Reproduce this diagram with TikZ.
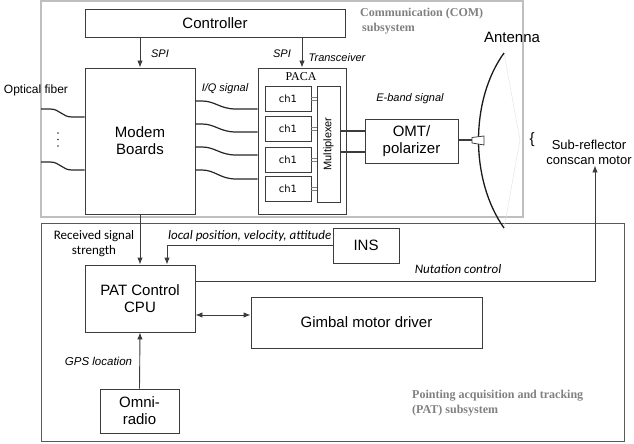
\documentclass[tikz,border=0pt]{standalone}
\usepackage{fontspec}
\setmainfont{Liberation Sans}
\newfontfamily\calfont{Carlito}
\newfontfamily\serfont{Liberation Serif}
\newfontfamily\djfont{DejaVu Sans}
\usetikzlibrary{arrows.meta}
\definecolor{boxline}{RGB}{60,60,60}
\definecolor{labgray}{RGB}{128,128,128}
\tikzset{
  box/.style={draw=boxline, line width=0.9pt, rectangle, inner sep=0pt, align=center, font=\fontsize{15}{17}\selectfont},
  chbox/.style={draw=boxline, line width=0.9pt, rectangle, inner sep=0pt, font=\djfont\fontsize{10}{12}\selectfont, minimum width=46pt, minimum height=25pt},
  arr/.style={draw=boxline, line width=0.9pt, -{Latex[length=7pt,width=5.5pt]}},
  darr/.style={draw=boxline, line width=0.9pt, {Latex[length=7pt,width=5.5pt]}-{Latex[length=7pt,width=5.5pt]}},
  ln/.style={draw=boxline, line width=0.9pt},
  wave/.style={draw=black!85, line width=1.2pt},
  itl/.style={font=\itshape\fontsize{11}{13}\selectfont, inner sep=0pt},
  cal/.style={font=\calfont\fontsize{13}{15}\selectfont, inner sep=0pt},
  calit/.style={font=\calfont\itshape\fontsize{13}{15}\selectfont, inner sep=0pt},
  sublab/.style={font=\serfont\bfseries\fontsize{12}{15}\selectfont, text=labgray, inner sep=0pt, align=left},
}
\begin{document}
\begin{tikzpicture}[x=1pt,y=-1pt]
\useasboundingbox (0,0) rectangle (634,444);
% frames
\draw[draw=black!25, line width=1.3pt] (41,1) rectangle (523,217);
\draw[draw=black!65, line width=0.9pt] (41,223) rectangle (624,441);

% antenna
\draw[draw=black!10, line width=0.5pt] (504,53) -- (520,140) -- (504,228);
\draw[draw=black!90, line width=1.3pt] (504,53) .. controls (470,100) and (470,180) .. (504,228);
\node[inner sep=0pt, font=\fontsize{15}{17}\selectfont] (ant) at (512,37) {Antenna};
\node[inner sep=0pt, font=\fontsize{15}{17}\selectfont] (brace) at (532,140) {\{};
\node[inner sep=1pt, align=center, font=\fontsize{13}{15}\selectfont] (sub) at (589,152) {Sub-reflector\\conscan motor};

% boxes
\node[box, minimum width=260pt, minimum height=28pt] (ctrl) at (215,23) {Controller};
\node[box, minimum width=110pt, minimum height=146pt] (modem) at (140,141) {Modem\\Boards};
\node[box, minimum width=88pt, minimum height=146pt] (paca) at (302,141) {};
\node[inner sep=0pt, font=\serfont\fontsize{12}{14}\selectfont] (pacalab) at (301,77) {PACA};
\node[chbox] (c1) at (288,98.5) {ch1};
\node[chbox] (c2) at (288,128.5) {ch1};
\node[chbox] (c3) at (288,159.5) {ch1};
\node[chbox] (c4) at (288,189) {ch1};
\node[box, minimum width=23pt, minimum height=116pt] (mux) at (328.5,144) {};
\node[rotate=90, inner sep=0pt, font=\fontsize{11}{13}\selectfont] (muxlab) at (mux.center) {Multiplexer};
\node[box, minimum width=93pt, minimum height=44pt] (omt) at (411.5,141) {OMT/\\polarizer};
\node[box, minimum width=66pt, minimum height=35pt] (ins) at (366,245.5) {INS};
\node[box, minimum width=110pt, minimum height=67pt] (cpu) at (140,298.5) {PAT Control\\CPU};
\node[box, minimum width=231pt, minimum height=51pt] (gimbal) at (366.5,322.5) {Gimbal motor driver};
\node[box, minimum width=79pt, minimum height=44pt] (omni) at (139.5,411) {Omni-\\radio};

% ch1 - mux links
\foreach \c in {c1,c2,c3,c4}{
  \draw[draw=black!50, line width=0.5pt] ([yshift=1.5pt]\c.east) -- ([yshift=1.5pt]\c.east -| mux.west);
  \draw[draw=black!50, line width=0.5pt] ([yshift=-1.5pt]\c.east) -- ([yshift=-1.5pt]\c.east -| mux.west);
}
% mux - omt
\coordinate (m1) at (0,131);
\coordinate (m2) at (0,152);
\draw[ln, line width=1.2pt] (mux.east |- m1) -- (omt.west |- m1);
\draw[ln, line width=1.2pt] (mux.east |- m2) -- (omt.west |- m2);
% omt - horn
\coordinate (hornL) at (472,140);
\draw[ln, line width=1.2pt] (omt.east |- hornL) -- (hornL);
\draw[draw=boxline, line width=0.8pt, fill=white] (472,137.5) -- (484,136) -- (484,145) -- (472,143) -- cycle;

% SPI arrows
\draw[arr] (ctrl.south -| modem.north) -- (modem.north);
\draw[arr] (ctrl.south -| paca.north) -- (paca.north);
\node[itl] at (160,54) {SPI};
\node[itl] at (282,54) {SPI};
\node[itl] at (337,58) {Transceiver};
\node[itl] at (225,89) {I/Q signal};
\node[itl] at (410,99) {E-band signal};

% optical fibers
\node[inner sep=0pt, font=\fontsize{12}{14}\selectfont] at (36,90) {Optical fiber};
\draw[wave] (41,109) -- (50,109) .. controls (60,109) and (62,117) .. (72,117) -- (modem.west |- 0,117);
\draw[wave] (41,162) -- (50,162) .. controls (60,162) and (62,170) .. (72,170) -- (modem.west |- 0,170);
\foreach \yy in {133,139.5,146} \fill[black!80] (58,\yy) circle (0.9pt);

% I/Q waves
\foreach \ya/\yb in {101/109,124/132,147/155,170/179}{
  \draw[wave] (modem.east |- 0,\ya) -- (202,\ya) .. controls (215,\ya) and (220,\yb) .. (236,\yb) -- (paca.west |- 0,\yb);
}

% PAT connections
\draw[arr] (modem.south) -- (cpu.north);
\node[cal, align=center] at (94,244) {Received signal\\strength};
\draw[arr] (ins.west) -| ([xshift=27pt]cpu.north);
\node[calit, anchor=west] at (168,236) {local position, velocity, attitude};
\coordinate (gy) at (0,315);
\draw[darr] (cpu.east |- gy) -- (gimbal.west |- gy);
\coordinate (ny) at (0,281);
\draw[arr] (cpu.east |- ny) -| ([xshift=6pt]sub.south);
\node[calit] at (458,269) {Nutation control};
\draw[arr] (omni.north) -- (cpu.south);
\node[itl, font=\itshape\fontsize{11.5}{13}\selectfont] at (98.5,361) {GPS location};

% subsystem labels
\node[sublab, anchor=west] at (360,14) {Communication (COM)};
\node[sublab, anchor=west] at (362,29) {subsystem};
\node[sublab, anchor=north west] at (412,390) {Pointing acquisition and tracking\\(PAT) subsystem};
\end{tikzpicture}
\end{document}
